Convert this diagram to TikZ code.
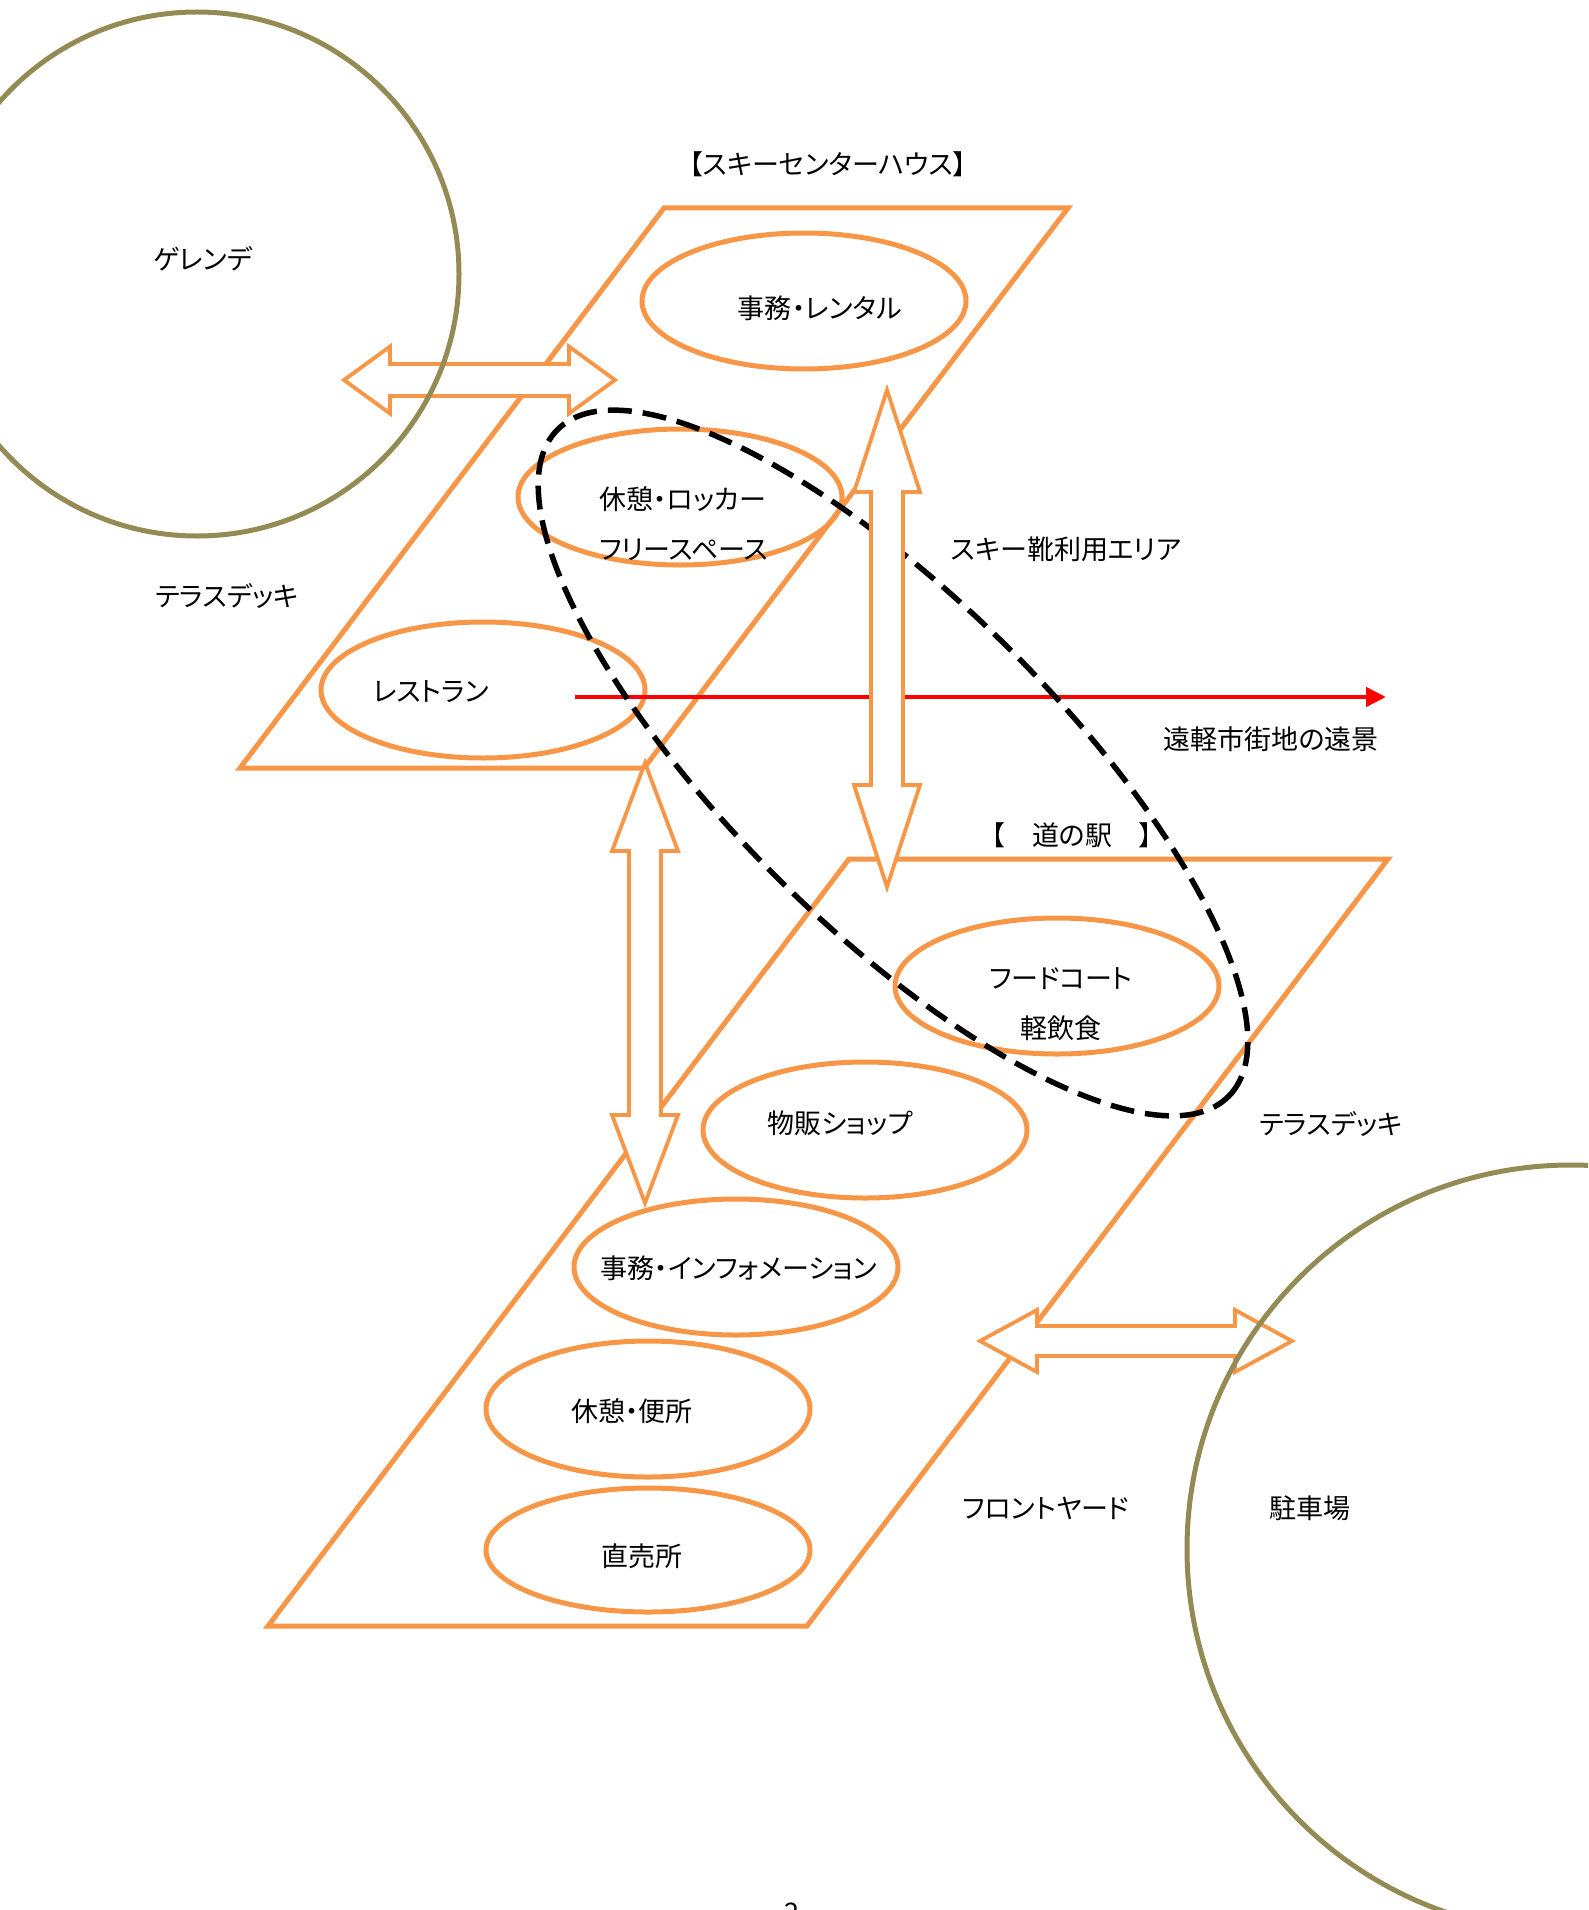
\documentclass[tikz,border=0pt]{standalone}
\usepackage{fontspec}
\usetikzlibrary{positioning}
\usetikzlibrary{shapes.geometric,arrows.meta}
\newfontfamily\jpfont[RawFeature=+palt]{Noto Sans CJK JP}
\definecolor{zoneorange}{RGB}{247,150,70}
\definecolor{siteolive}{RGB}{148,138,84}

% double block arrow: half length / head length / head half width / shaft half width
\tikzset{
    pics/dblarrow/.style n args = {4}{code = {
        \draw[link] (-#1,0) -- (-#1+#2,-#3) -- (-#1+#2,-#4) -- (#1-#2,-#4) -- (#1-#2,-#3) -- (#1,0)
            -- (#1-#2,#3) -- (#1-#2,#4) -- (-#1+#2,#4) -- (-#1+#2,#3) -- cycle;
    }},
}

\begin{document}
\begin{tikzpicture}[x = 1pt, y = -1pt,
    floor/.style = {draw = zoneorange, line width = 5pt, line join = miter},
    facility/.style = {shape = ellipse, draw = zoneorange, line width = 5pt, minimum width = 324pt, minimum height = 136pt, inner sep = 0pt},
    txt/.style = {font = \jpfont\fontsize{27pt}{50pt}\selectfont, inner sep = 0pt, align = center},
    link/.style = {draw = zoneorange, fill = white, line width = 3.8pt, line join = miter},
    site/.style = {shape = circle, draw = siteolive, line width = 5pt, inner sep = 0pt},
    bootzone/.style = {shape = ellipse, draw = black, line width = 5.5pt, dash pattern = on 24pt off 11pt, inner sep = 0pt},
    view/.style = {draw = red, line width = 4.5pt, -{Triangle[length = 20pt, width = 19pt]}},
    ]
    \useasboundingbox (0,0) rectangle (1588,1910);
    \clip (0,0) rectangle (1588,1910);

    % floors
    \draw[floor] (664,208) -- (1068,208) -- (644,768) -- (240,768) -- cycle;
    \draw[floor] (849,859) -- (1388,859) -- (807,1626) -- (268,1626) -- cycle;

    \node[txt] (househead) at (828,164) {【スキーセンターハウス】};
    \node[txt] (stationhead) at (1072,835) {【　道の駅　】};

    % rooms
    \node[facility] (rental) at (804,301) {};
    \node[facility] (locker) at (680,497) {};
    \node[facility] (restaurant) at (483,690) {};
    \node[facility] (foodcourt) at (1057,986) {};
    \node[facility] (shop) at (865,1130) {};
    \node[facility] (info) at (736,1267) {};
    \node[facility] (toilet) at (648,1409) {};
    \node[facility, minimum height = 124pt] (market) at (648,1550) {};

    \node[txt] (rentallbl) at (820,308) {事務・レンタル};
    \node[txt, align = left, anchor = west] (lockerlbl) at (599,524) {休憩・ロッカー\\フリースペース};
    \node[txt] (restaurantlbl) at (431,692) {レストラン};
    \node[txt] (foodcourtlbl) at (1061,1004) {フードコート\\軽飲食};
    \node[txt] (shoplbl) at (840,1123) {物販ショップ};
    \node[txt] (infolbl) at (739,1268) {事務・インフォメーション};
    \node[txt] (toiletlbl) at (632,1411) {休憩・便所};
    \node[txt] (marketlbl) at (642,1556) {直売所};

    \node[txt] (terrace) at (227,596) {テラスデッキ};
    \node[txt] (terrace2) at (1331,1124) {テラスデッキ};
    \node[txt] (frontyard) at (1046,1508) {フロントヤード};

    % view to town
    \coordinate (viewA) at (575,697);
    \coordinate (viewB) at (1386,697);
    \draw[view] (viewA) -- (viewB);
    \node[txt] (viewlbl) at (1271,739) {遠軽市街地の遠景};

    % ski boot area
    \node[bootzone, minimum width = 946pt, minimum height = 326pt, rotate = -44.8] (bootarea) at (893,763) {};
    \node[txt] (bootlbl) at (1066,549) {スキー靴利用エリア};

    % links
    \pic (slopelink) at (479.5,380) {dblarrow = {135.5}{46}{33.5}{16}};
    \pic[rotate = 90] (bootlink) at (887,638.5) {dblarrow = {248.5}{102}{33}{16}};
    \pic[rotate = 90] (terracelink) at (645,983) {dblarrow = {220}{88}{33}{16}};
    \pic (parklink) at (1136,1341) {dblarrow = {156}{57}{31}{15}};

    % outside
    \node[site, minimum size = 524pt] (slope) at (197,274) {};
    \node[txt] (slopelbl) at (203,259) {ゲレンデ};
    \node[site, minimum size = 768pt] (parking) at (1571,1549) {};
    \node[txt] (parkinglbl) at (1310,1508) {駐車場};

    \node[txt, anchor = base] (pageno) at (792,1922) {2};
\end{tikzpicture}
\end{document}
